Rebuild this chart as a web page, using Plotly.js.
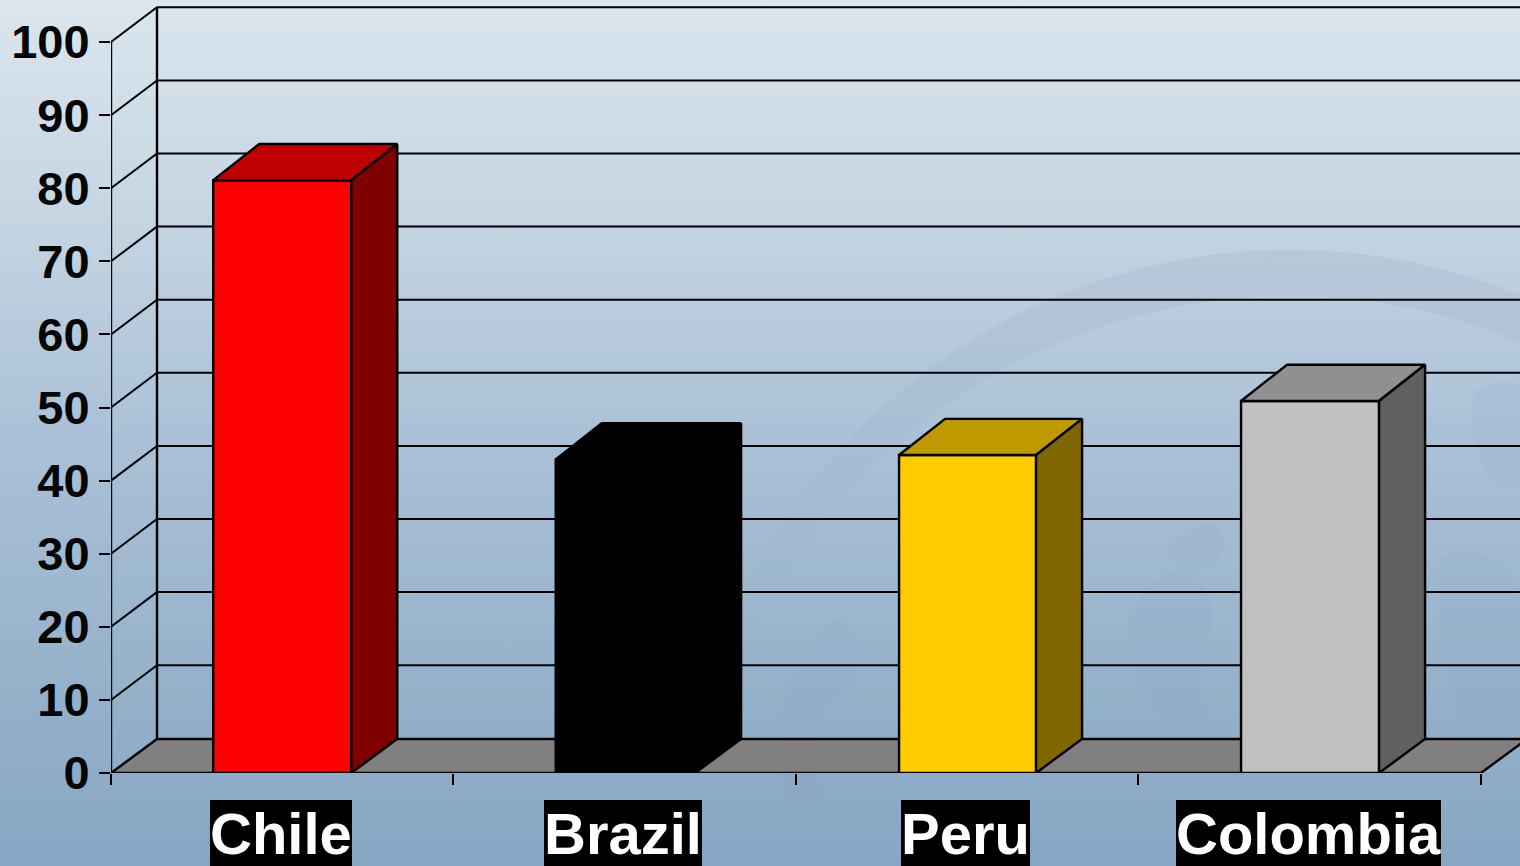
<!DOCTYPE html>
<html>
<head>
<meta charset="utf-8">
<script src="https://cdn.plot.ly/plotly-3.0.1.min.js"></script>
<style>
html,body{margin:0;padding:0;width:1520px;height:866px;overflow:hidden;
background:linear-gradient(180deg,#dbe6ee 0%,#c5d5e2 25%,#abc1d7 50%,#98b4cc 75%,#86a6c3 100%);}
#bg{position:absolute;left:0;top:0;}
#chart{position:absolute;left:0;top:0;width:1520px;height:866px;}
</style>
</head>
<body>
<svg id="bg" width="1520" height="866" viewBox="0 0 1520 866">
  <defs>
    <linearGradient id="fade" gradientUnits="userSpaceOnUse" x1="0" y1="245" x2="0" y2="640">
      <stop offset="0" stop-color="#8fa0ba" stop-opacity="0.20"/>
      <stop offset="0.55" stop-color="#8fa0ba" stop-opacity="0.10"/>
      <stop offset="1" stop-color="#8fa0ba" stop-opacity="0"/>
    </linearGradient>
  </defs>
  <path fill="url(#fade)" fill-rule="evenodd" d="M683 857a607 607 0 1 0 1214 0a607 607 0 1 0 -1214 0Z M693 893a597 597 0 1 0 1194 0a597 597 0 1 0 -1194 0Z"/>
  <g fill="#7f9dbb" fill-opacity="0.08">
    <path d="M785 690q25-60 55-70q25 20 20 50q-10 30-35 35q-15 45-5 90h-35q-10-50 0-105Z"/>
    <path d="M1130 610q30-45 60-40q30 30 20 60q-20 50 0 85q-40 20-60-15q-30-30-20-90Z"/>
    <path d="M1165 555q20-35 50-30q15 15 5 35q-25 20-55-5Z"/>
    <path d="M1440 560q25-20 50 0q30 15 30 40v110q-30 30-60 10q-25-50-20-160Z"/>
    <path d="M1475 390q30-15 45-5v100q-30 10-40-30q-15-30-5-65Z"/>
  </g>
</svg>
<div id="chart"></div>
<script>
// ---- data ----
const categories = ["Chile", "Brazil", "Peru", "Colombia"];
const values = [81.1, 42.9, 43.5, 50.9];
const frontColors = ["#ff0000", "#000000", "#ffcc00", "#c0c0c0"];
const topColors = ["#bf0000", "#000000", "#bf9900", "#909090"];
const sideColors = ["#800000", "#000000", "#806600", "#606060"];
const yTicks = [0, 10, 20, 30, 40, 50, 60, 70, 80, 90, 100];
const yTickLabels = ["0", "10", "20", "30", "40", "50", "60", "70", "80", "90", "100"];

// ---- geometry of the pseudo-3D drawing, in axis units ----
const barWidths = [0.403, 0.407, 0.400, 0.403];
const barShift = [0, 0.002, 0.001, 0.001];
const depthX = 0.1343;
const floorDepthY = 4.65;
const gridDepthY = 4.75;
const barTopDepthY = 4.95;
const xL = -0.5, xR = 3.5;
const xEdges = [-0.5, 0.5, 1.5, 2.5, 3.5];
const yMaxRange = 105.75, xMaxRange = 3.614;
const ink = "#000000";

const poly = (xs, ys, fill, name, z) => ({
  type: "scatter", mode: "lines", x: xs, y: ys, fill: "toself", fillcolor: fill,
  line: {color: ink, width: 2.4}, hoverinfo: "skip", showlegend: false,
  cliponaxis: false, name: name, zorder: z
});
const seg = (xs, ys, w, z) => ({
  type: "scatter", mode: "lines", x: xs, y: ys, line: {color: ink, width: w},
  hoverinfo: "skip", showlegend: false, cliponaxis: false, zorder: z
});

const traces = [];
// floor
traces.push(poly([xL, xR, xR + depthX, xL + depthX, xL], [0, 0, floorDepthY, floorDepthY, 0], "#808080", "floor", -2));
// back wall grid, side wall diagonals
yTicks.forEach(v => {
  if (v === 0) return;
  traces.push(seg([xL, xL + depthX, xR + depthX], [v, v + gridDepthY, v + gridDepthY], 2, -1));
});
// axis verticals
traces.push(seg([xL, xL], [0, yTicks[yTicks.length - 1]], 2.4, -1));
traces.push(seg([xL + depthX, xL + depthX], [floorDepthY, yTicks[yTicks.length - 1] + gridDepthY], 2.4, -1));

// bars: real bar trace for the front faces
const barX = categories.map((c, i) => i + barShift[i]);
traces.push({
  type: "bar", x: barX, y: values, width: barWidths, text: categories,
  marker: {color: frontColors, line: {color: ink, width: 2.4}},
  hoverinfo: "text+y", showlegend: false, cliponaxis: false, zorder: 0, textposition: "none"
});
// top and side faces computed from the same values
values.forEach((v, i) => {
  const l = barX[i] - barWidths[i] / 2, r = barX[i] + barWidths[i] / 2;
  traces.push(poly([l, r, r + depthX, l + depthX, l], [v, v, v + barTopDepthY, v + barTopDepthY, v], topColors[i], categories[i] + " top", 1));
  traces.push(poly([r, r + depthX, r + depthX, r, r], [0, floorDepthY, v + barTopDepthY, v, 0], sideColors[i], categories[i] + " side", 1));
});

const layout = {
  width: 1520, height: 866,
  margin: {l: 111, r: 0, t: 0, b: 93, pad: 0},
  paper_bgcolor: "rgba(0,0,0,0)", plot_bgcolor: "rgba(0,0,0,0)",
  showlegend: false, barmode: "overlay",
  font: {family: "Liberation Sans, Arial, sans-serif", color: "#0a0a0a"},
  xaxis: {
    range: [xL, xMaxRange], tickmode: "array", tickvals: xEdges, showticklabels: false,
    ticks: "outside", ticklen: 11, tickwidth: 2, tickcolor: ink,
    showgrid: false, zeroline: false, showline: false, fixedrange: true
  },
  yaxis: {
    range: [0, yMaxRange], tickmode: "array", tickvals: yTicks, ticktext: yTickLabels,
    ticks: "outside", ticklen: 11, tickwidth: 2, tickcolor: ink,
    tickfont: {family: "Liberation Sans, Arial, sans-serif", size: 47, color: "#050505", weight: 700},
    ticklabelstandoff: 0,
    showgrid: false, zeroline: false, showline: false, fixedrange: true
  },
  annotations: categories.map((c, i) => ({
    text: "<b>" + c + "</b>", x: i, xref: "x", y: 0, yref: "paper",
    xanchor: "center", yanchor: "top", yshift: -27, xshift: -1.5,
    showarrow: false, bgcolor: "#000000", borderpad: 0, borderwidth: 0,
    height: 66, valign: "middle",
    font: {family: "Liberation Sans, Arial, sans-serif", size: 58, color: "#ffffff"}
  }))
};
Plotly.newPlot("chart", traces, layout, {displayModeBar: false, responsive: false});
</script>
</body>
</html>
